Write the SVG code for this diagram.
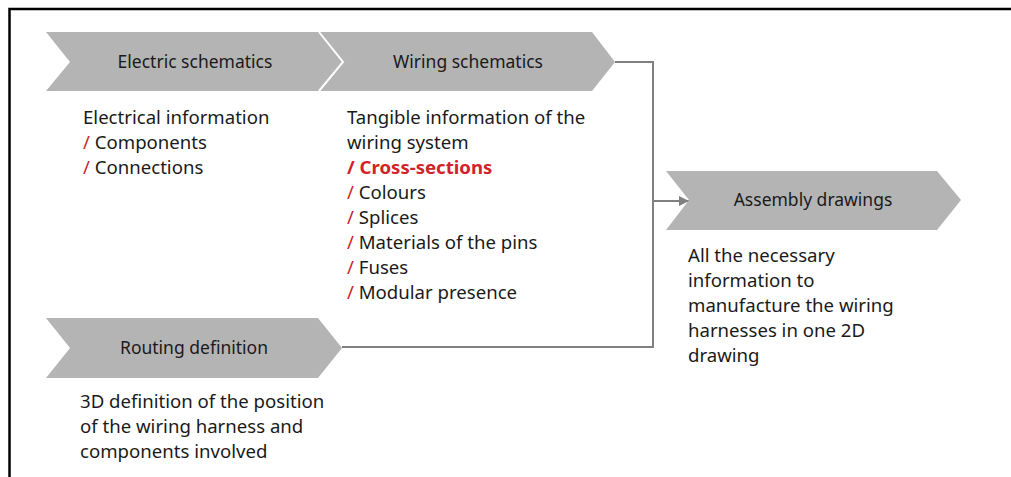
<svg xmlns="http://www.w3.org/2000/svg" width="1011" height="477" viewBox="0 0 1011 477">
  <style>
    .chev { fill: #b4b4b4; }
    .head { font-family: "Noto Sans", "Open Sans", sans-serif; font-size: 17.5px; fill: #1a1a1a; text-anchor: middle; }
    .body { font-family: "Noto Sans", "Open Sans", sans-serif; font-size: 18.6px; fill: #1a1a1a; }
    .red { fill: #d2232a; }
    .conn { fill: none; stroke: #808080; stroke-width: 2; }
  </style>
  <defs>
    <marker id="arrowhead" markerWidth="10" markerHeight="10" refX="10" refY="5" orient="auto" markerUnits="userSpaceOnUse">
      <path d="M0,0 L10,5 L0,10 Z" fill="#808080"/>
    </marker>
  </defs>
  <rect width="1011" height="477" fill="#ffffff"/>

  <!-- frame -->
  <path d="M9.5,477 V9 H1011" fill="none" stroke="#000000" stroke-width="2.5"/>

  <!-- connectors -->
  <g id="connectors">
    <path class="conn" d="M615,62 H653 V347 H342"/>
    <path class="conn" d="M653,201 H689" marker-end="url(#arrowhead)"/>
  </g>

  <g id="electric-schematics">
    <polygon class="chev" points="46,32 319,32 343,62 319,91 46,91 70,62"/>
    <text class="head" x="195" y="68">Electric schematics</text>
    <text class="body" x="83" y="124">Electrical information</text>
    <text class="body" x="83" y="149"><tspan class="red">/</tspan> Components</text>
    <text class="body" x="83" y="174"><tspan class="red">/</tspan> Connections</text>
  </g>

  <g id="wiring-schematics">
    <polygon class="chev" points="319,32 592,32 615,62 592,91 319,91 343,62"/>
    <polyline points="319,32 343,62 319,91" fill="none" stroke="#ffffff" stroke-width="2"/>
    <text class="head" x="468" y="68">Wiring schematics</text>
    <text class="body" x="347" y="124">Tangible information of the</text>
    <text class="body" x="347" y="149">wiring system</text>
    <text class="body red" x="347" y="174" font-weight="bold">/ Cross-sections</text>
    <text class="body" x="347" y="199"><tspan class="red">/</tspan> Colours</text>
    <text class="body" x="347" y="224"><tspan class="red">/</tspan> Splices</text>
    <text class="body" x="347" y="249"><tspan class="red">/</tspan> Materials of the pins</text>
    <text class="body" x="347" y="274"><tspan class="red">/</tspan> Fuses</text>
    <text class="body" x="347" y="299"><tspan class="red">/</tspan> Modular presence</text>
  </g>

  <g id="routing-definition">
    <polygon class="chev" points="46,318 318,318 342,348 318,378 46,378 70,348"/>
    <text class="head" x="194" y="354">Routing definition</text>
    <text class="body" x="80" y="408">3D definition of the position</text>
    <text class="body" x="80" y="433">of the wiring harness and</text>
    <text class="body" x="80" y="458">components involved</text>
  </g>

  <g id="assembly-drawings">
    <polygon class="chev" points="666,171 937,171 961,200 937,230 666,230 689,200"/>
    <text class="head" x="813" y="206">Assembly drawings</text>
    <text class="body" x="688" y="262">All the necessary</text>
    <text class="body" x="688" y="287">information to</text>
    <text class="body" x="688" y="312">manufacture the wiring</text>
    <text class="body" x="688" y="337">harnesses in one 2D</text>
    <text class="body" x="688" y="362">drawing</text>
  </g>
</svg>
